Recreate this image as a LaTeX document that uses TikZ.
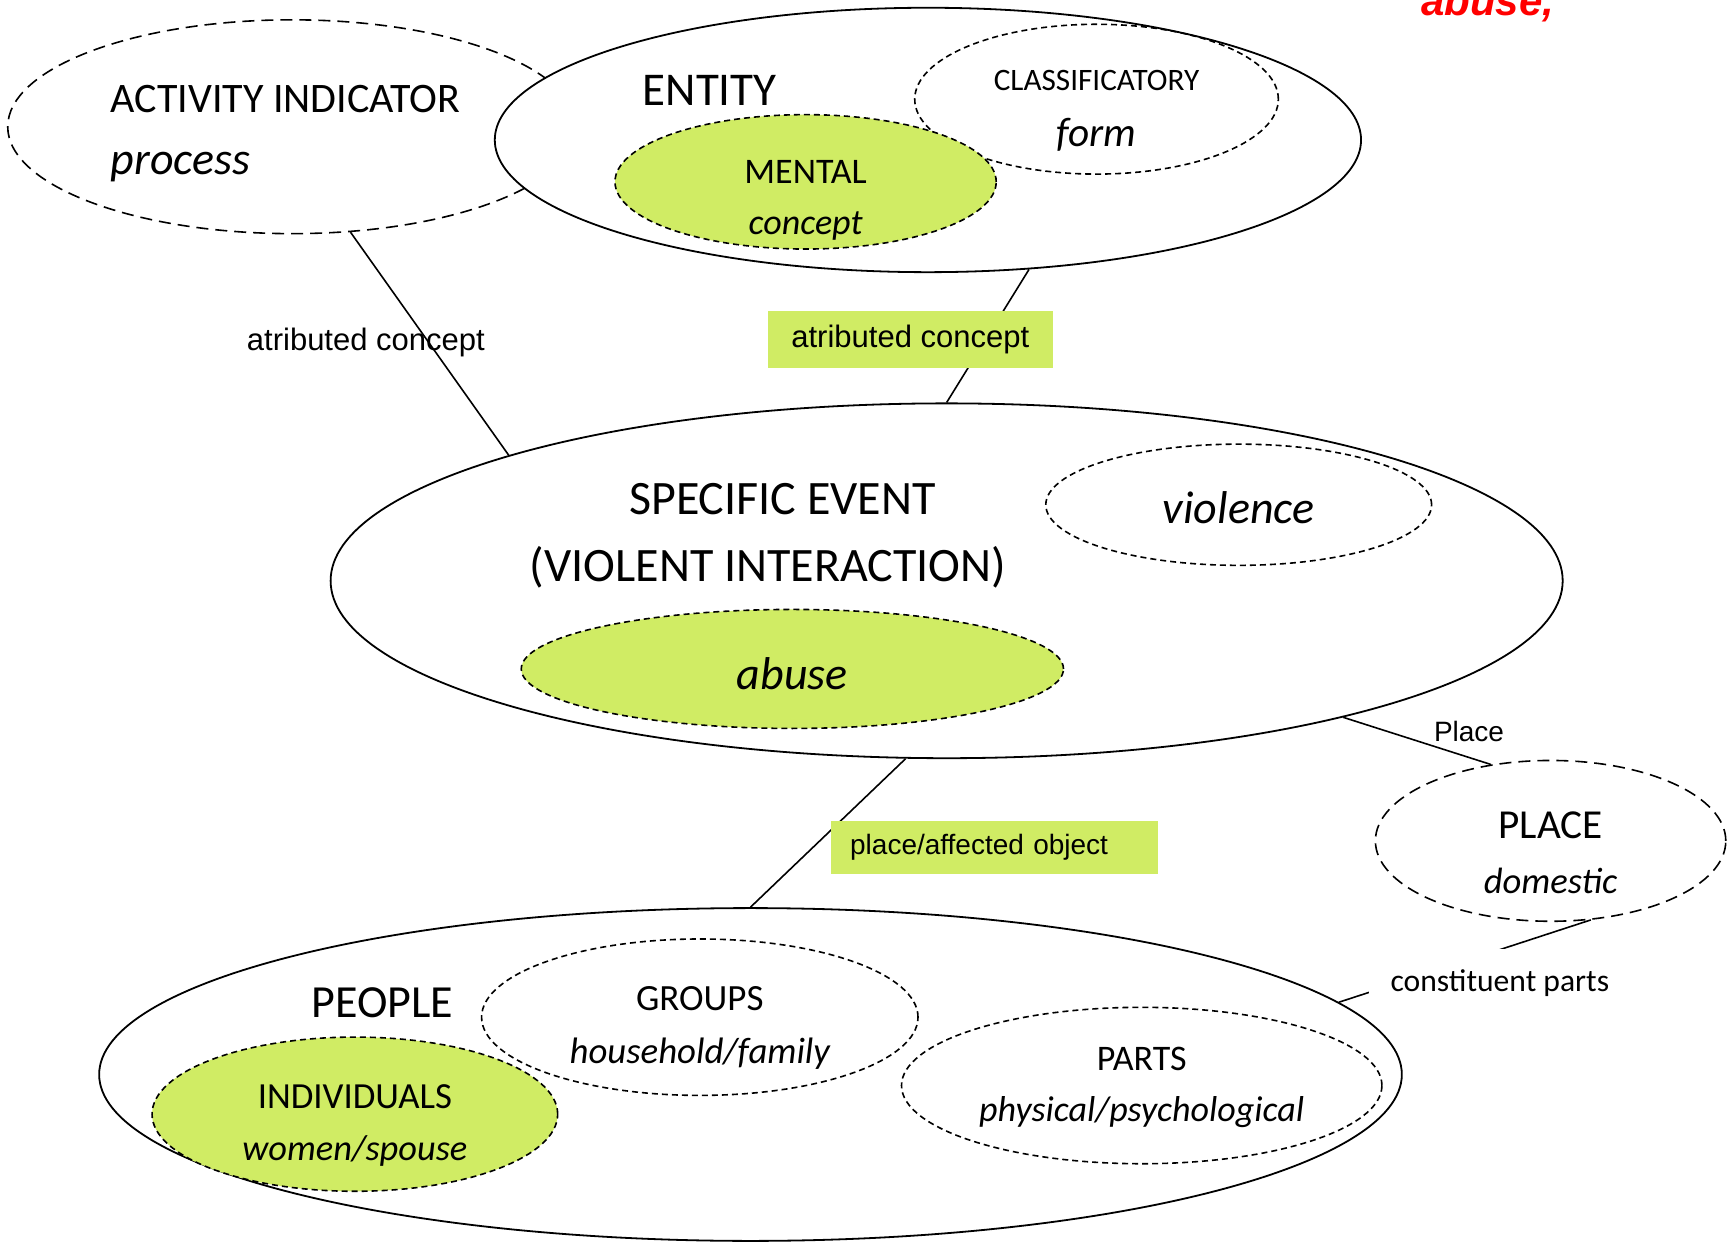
\documentclass[tikz,border=0pt]{standalone}
\usepackage{fontspec}
\setmainfont{Carlito}
\newfontfamily\arialfont{Liberation Sans}
\usetikzlibrary{shapes.geometric}
\definecolor{conceptgreen}{RGB}{208,236,100}
\newcommand\fsz[1]{\fontsize{#1}{#1}\selectfont}

\begin{document}
\begin{tikzpicture}[x=0.551pt, y=-0.551pt,
  bigell/.style={ellipse, draw, fill=white, line width=0.9pt, inner sep=0pt},
  subell/.style={ellipse, draw, line width=0.8pt, dash pattern=on 3pt off 2pt, inner sep=0pt},
  outell/.style={ellipse, draw, line width=0.8pt, dash pattern=on 6pt off 3.5pt, inner sep=0pt},
  hl/.style={fill=conceptgreen},
  link/.style={line width=0.8pt},
  tag/.style={inner sep=0pt, font=\arialfont\fsz{15.5}},
  greentag/.style={tag, fill=conceptgreen}]
\useasboundingbox (0,0) rectangle (1568,1127);

% red word cut at the top edge
\node[anchor=base, text=red, font=\arialfont\bfseries\itshape\fsz{21}] (redword) at (1350,14) {abuse,};

% outer ellipses
\node[outell, minimum width=284.3pt, minimum height=106.9pt] (act) at (265,115) {};
\node[bigell, minimum width=433.1pt, minimum height=132.2pt] (ent) at (842,127) {};
\node[subell, minimum width=181.8pt, minimum height=74.9pt] (classif) at (995,90) {};
\node[subell, hl, minimum width=190.6pt, minimum height=67.2pt] (mental) at (731,165) {};

\node[bigell, minimum width=616.0pt, minimum height=177.4pt] (event) at (859,527) {};
\node[subell, minimum width=192.9pt, minimum height=60.6pt] (violence) at (1124,458) {};
\node[subell, hl, minimum width=271.1pt, minimum height=59.5pt] (abuse) at (719,607) {};

\node[outell, minimum width=175.2pt, minimum height=80.4pt] (place) at (1407,763) {};

\node[bigell, minimum width=651.3pt, minimum height=166.4pt] (people) at (681,975) {};
\node[subell, minimum width=218.2pt, minimum height=78.2pt] (groups) at (635,923) {};
\node[subell, hl, minimum width=202.8pt, minimum height=77.1pt] (indiv) at (322,1011) {};
\node[subell, minimum width=240.2pt, minimum height=78.2pt] (parts) at (1036,985) {};

% connectors
\draw[link] (act.-61) -- (event.164.5);
\draw[link] (ent.-52.1) -- (event.90);
\draw[link] (event.-103.9) -- (people.90);
\draw[link] (event.-19.1) -- (place.128.8);
\draw[link] (place.-63) -- (people.7.2);

% connector labels
\node[tag] (attr1) at (332,311) {atributed concept};
\node[greentag, minimum width=142.2pt, minimum height=28.7pt] (attr2) at (826,308) {\raisebox{-1.5pt}{atributed concept}};
\node[greentag, anchor=west, minimum height=26.4pt, inner xsep=9.4pt, text width=144.3pt, align=left,
      font=\arialfont\fsz{14}] (affected) at (754,769) {\raisebox{-1.5pt}{place/affected object}};
\node[tag, font=\arialfont\fsz{14}] (placelbl) at (1333,664) {Place};
\node[fill=white, inner sep=0pt, minimum width=131pt, minimum height=34pt, font=\fsz{15.8}] (constit) at (1361,892) {\raisebox{-1pt}{constituent parts}};

% texts in the ellipses
\node[anchor=west, inner xsep=0pt, font=\fsz{21}] (actname) at (100,90) {ACTIVITY INDICATOR};
\node[anchor=west, inner xsep=0pt, font=\itshape\fsz{23}] (actterm) at (100,152) {process};
\node[font=\fsz{23.5}] (entname) at (644,82) {ENTITY};
\node[font=\fsz{15.6}] (classifname) at (995,73) {CLASSIFICATORY};
\node[font=\itshape\fsz{20.6}] (classifterm) at (995,122) {form};
\node[font=\fsz{18}] (mentalname) at (731,156) {MENTAL};
\node[font=\itshape\fsz{18}] (mentalterm) at (731,205) {concept};

\node[font=\fsz{24}] (eventname) at (710,453) {SPECIFIC EVENT};
\node[font=\fsz{24}] (eventsub) at (697,515) {(VIOLENT INTERACTION)};
\node[font=\itshape\fsz{23}] (violenceterm) at (1124,461) {violence};
\node[font=\itshape\fsz{23}] (abuseterm) at (719,611) {abuse};

\node[font=\fsz{20.6}] (placename) at (1407,749) {PLACE};
\node[font=\itshape\fsz{18.3}] (placeterm) at (1407,799) {domestic};

\node[font=\fsz{23}] (peoplename) at (347,910) {PEOPLE};
\node[font=\fsz{18.5}] (groupsname) at (635,906) {GROUPS};
\node[font=\itshape\fsz{18.4}] (groupsterm) at (635,956) {household/family};
\node[font=\fsz{18.4}] (indivname) at (322,995) {INDIVIDUALS};
\node[font=\itshape\fsz{18.2}] (indivterm) at (322,1044) {women/spouse};
\node[font=\fsz{18}] (partsname) at (1036,961) {PARTS};
\node[font=\itshape\fsz{18}] (partsterm) at (1036,1009) {physical/psychological};
\end{tikzpicture}
\end{document}
